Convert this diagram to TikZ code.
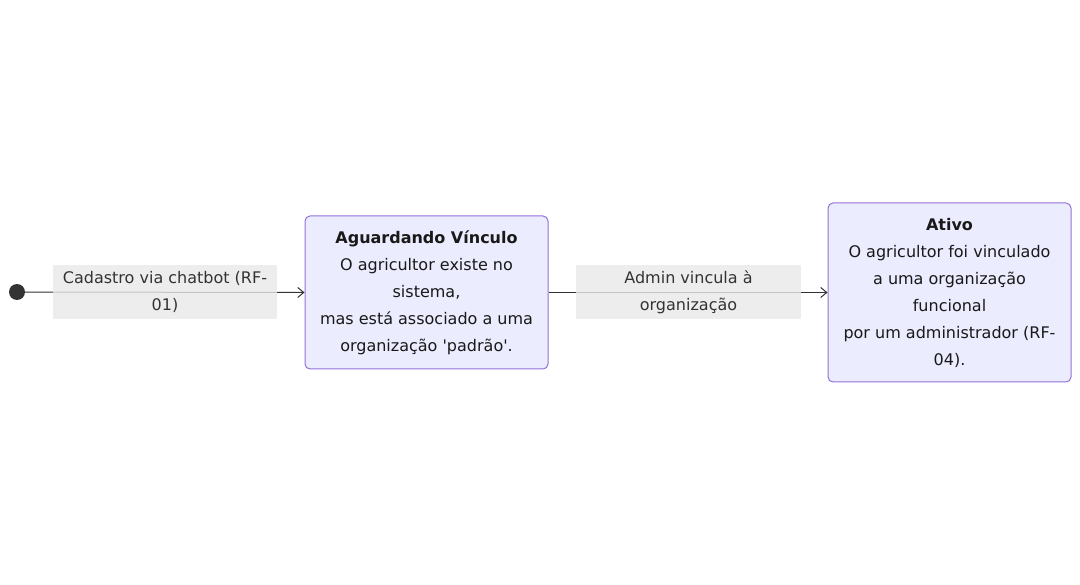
\documentclass[tikz,border=0pt]{standalone}
\usepackage{fontspec}
\setmainfont{DejaVu Sans}
\usetikzlibrary{arrows.meta}
\definecolor{stfill}{HTML}{ECECFF}
\definecolor{stline}{HTML}{9370DB}
\definecolor{lblbg}{HTML}{E8E8E8}
\definecolor{txt}{HTML}{333333}
\begin{document}
\begin{tikzpicture}[x=1pt,y=-1pt,
  state/.style={draw=stline, fill=stfill, rounded corners=5pt, line width=1pt,
    align=center, text=black!90, inner sep=0pt,
    font=\fontsize{16}{27}\selectfont},
  elabel/.style={fill=lblbg, fill opacity=0.8, text opacity=1, text=txt, align=center,
    inner sep=0pt, font=\fontsize{16}{27}\selectfont},
  conn/.style={draw=txt, line width=1pt, -{Straight Barb[length=6pt,width=10pt]}},
  startdot/.style={circle, fill=txt, minimum size=16pt, inner sep=0pt}
]
\useasboundingbox (0,0) rectangle (1080,585);
\node[startdot] (start) at (17,292) {};
\node[state, minimum width=243pt, minimum height=153pt] (wait) at (426.5,292.5)
  {\textbf{Aguardando Vínculo}\\O agricultor existe no\\sistema,\\mas está associado a uma\\organização \textquotesingle padrão\textquotesingle.};
\node[state, minimum width=243pt, minimum height=179pt] (ativo) at (949.5,292.5)
  {\textbf{Ativo}\\O agricultor foi vinculado\\a uma organização\\funcional\\por um administrador (RF-\\04).};
\draw[conn] (start) -- (wait.west);
\draw[conn] (wait.east) -- (ativo.west);
\node[elabel, minimum width=224pt, minimum height=54pt] (l1) at (165,292) {Cadastro via chatbot (RF-\\01)};
\node[elabel, minimum width=225pt, minimum height=54pt] (l2) at (688.5,292) {Admin vincula à\\organização};
\end{tikzpicture}
\end{document}
